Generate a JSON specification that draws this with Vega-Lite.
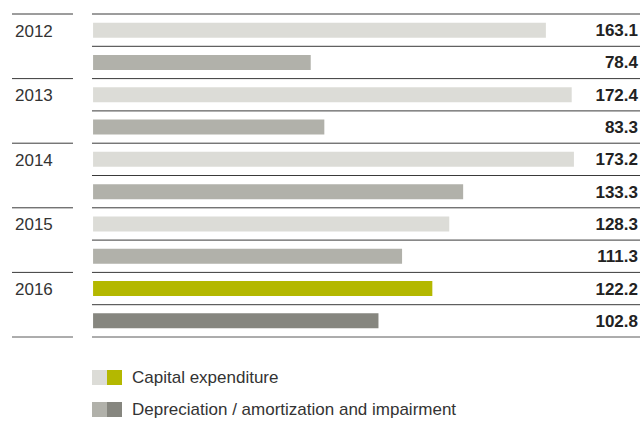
{
  "$schema": "https://vega.github.io/schema/vega-lite/v6.json",
  "width": 628,
  "height": 323,
  "autosize": {"type": "none"},
  "padding": {"left": 12, "top": 14, "right": 3, "bottom": 88},
  "config": {"view": {"stroke": null}, "font": "Liberation Sans"},
  "data": {
    "values": [
      {"year": "2012", "series": "Capital expenditure", "row": "2012 a", "value": 163.1},
      {"year": "2012", "series": "Depreciation / amortization and impairment", "row": "2012 b", "value": 78.4},
      {"year": "2013", "series": "Capital expenditure", "row": "2013 a", "value": 172.4},
      {"year": "2013", "series": "Depreciation / amortization and impairment", "row": "2013 b", "value": 83.3},
      {"year": "2014", "series": "Capital expenditure", "row": "2014 a", "value": 173.2},
      {"year": "2014", "series": "Depreciation / amortization and impairment", "row": "2014 b", "value": 133.3},
      {"year": "2015", "series": "Capital expenditure", "row": "2015 a", "value": 128.3},
      {"year": "2015", "series": "Depreciation / amortization and impairment", "row": "2015 b", "value": 111.3},
      {"year": "2016", "series": "Capital expenditure", "row": "2016 a", "value": 122.2},
      {"year": "2016", "series": "Depreciation / amortization and impairment", "row": "2016 b", "value": 102.8}
    ]
  },
  "layer": [
    {
      "mark": {"type": "rule", "color": "#3a3a3a", "strokeWidth": 1},
      "encoding": {
        "y": {"field": "row", "type": "ordinal", "bandPosition": 0, "sort": "ascending", "axis": null, "scale": {"paddingInner": 0, "paddingOuter": 0}},
        "x": {"datum": -0.385, "type": "quantitative", "axis": null, "scale": {"domain": [-29.2, 197], "nice": false, "zero": false}},
        "x2": {"datum": 197}
      }
    },
    {
      "transform": [{"filter": "datum.series === 'Capital expenditure'"}],
      "mark": {"type": "rule", "color": "#3a3a3a", "strokeWidth": 1},
      "encoding": {
        "y": {"field": "row", "type": "ordinal", "bandPosition": 0},
        "x": {"datum": -29.2, "type": "quantitative"},
        "x2": {"datum": -7.23}
      }
    },
    {
      "transform": [{"filter": "datum.row === '2016 b'"}],
      "mark": {"type": "rule", "color": "#5a5a5a", "strokeWidth": 1},
      "encoding": {
        "y": {"field": "row", "type": "ordinal", "bandPosition": 1},
        "x": {"datum": -0.385, "type": "quantitative"},
        "x2": {"datum": 197}
      }
    },
    {
      "transform": [{"filter": "datum.row === '2016 b'"}],
      "mark": {"type": "rule", "color": "#5a5a5a", "strokeWidth": 1},
      "encoding": {
        "y": {"field": "row", "type": "ordinal", "bandPosition": 1},
        "x": {"datum": -29.2, "type": "quantitative"},
        "x2": {"datum": -7.23}
      }
    },
    {
      "transform": [{"filter": "datum.year !== '2016'"}],
      "mark": {"type": "bar", "size": 15},
      "encoding": {
        "y": {"field": "row", "type": "ordinal"},
        "x": {"field": "value", "type": "quantitative"},
        "x2": {"datum": 0},
        "color": {
          "field": "series",
          "type": "nominal",
          "scale": {"range": ["#dcdcd7", "#b1b1aa"]},
          "legend": {
            "orient": "none", "legendX": 79, "legendY": 355, "title": null,
            "symbolType": "square", "symbolSize": 225, "symbolStrokeWidth": 0,
            "labelExpr": "' '", "labelFontSize": 17, "rowPadding": 14
          }
        }
      }
    },
    {
      "transform": [{"filter": "datum.year === '2016'"}],
      "mark": {"type": "bar", "size": 15},
      "encoding": {
        "y": {"field": "row", "type": "ordinal"},
        "x": {"field": "value", "type": "quantitative"},
        "x2": {"datum": 0},
        "color": {
          "field": "series",
          "type": "nominal",
          "scale": {"range": ["#b4b800", "#86867f"]},
          "legend": {
            "orient": "none", "legendX": 94, "legendY": 355, "title": null,
            "symbolType": "square", "symbolSize": 225, "symbolStrokeWidth": 0,
            "labelFontSize": 17, "labelColor": "#333333", "labelOffset": 9, "labelLimit": 0, "rowPadding": 14
          }
        }
      }
    },
    {
      "transform": [{"filter": "datum.series === 'Capital expenditure'"}],
      "mark": {"type": "text", "align": "left", "baseline": "middle", "fontSize": 17, "color": "#333333", "dy": 1.5},
      "encoding": {
        "y": {"field": "row", "type": "ordinal"},
        "x": {"datum": -28.12, "type": "quantitative"},
        "text": {"field": "year"}
      }
    },
    {
      "mark": {"type": "text", "align": "right", "baseline": "middle", "fontSize": 17, "fontWeight": "bold", "color": "#222222", "dy": 1},
      "encoding": {
        "y": {"field": "row", "type": "ordinal"},
        "x": {"datum": 196.28, "type": "quantitative"},
        "text": {"field": "value", "type": "quantitative", "format": ".1f"}
      }
    }
  ],
  "resolve": {"scale": {"color": "independent"}}
}
